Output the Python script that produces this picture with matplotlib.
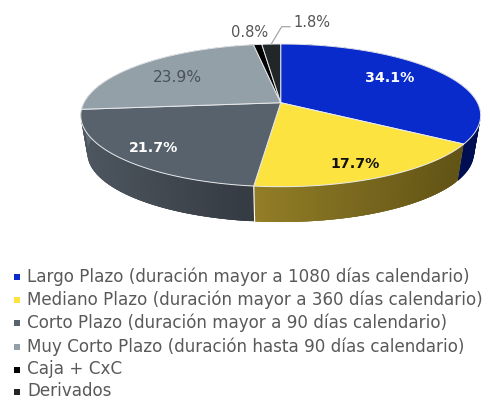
import numpy as np
import matplotlib
matplotlib.use('Agg')
import matplotlib.pyplot as plt
from matplotlib.colors import to_rgb

plt.rcParams['font.family'] = ['DejaVu Sans']

# slices, clockwise from 12 o'clock
categories = [
    "Largo Plazo (duración mayor a 1080 días calendario)",
    "Mediano Plazo (duración mayor a 360 días calendario)",
    "Corto Plazo (duración mayor a 90 días calendario)",
    "Muy Corto Plazo (duración hasta 90 días calendario)",
    "Caja + CxC",
    "Derivados",
]
values = [34.1, 17.7, 21.7, 23.9, 0.8, 1.8]
top_colors = ["#0a2bcb", "#fce340", "#58626c", "#94a0a8", "#000000", "#212729"]
side_left = ["#00115f", "#968128", "#4e5760", "#5f676e", "#000000", "#15191a"]
side_right = ["#000e52", "#625416", "#363c44", "#5f676e", "#000000", "#15191a"]

label_text = ["34.1%", "17.7%", "21.7%", "23.9%", "0.8%", "1.8%"]
label_x = [389.5, 355, 153.5, 177.5, 249.5, 311.5]
label_y = [77.5, 164, 147.5, 77.5, 32.5, 22.5]
label_colors = ["white", "#111111", "white", "#4a525a", "#555555", "#555555"]
label_sizes = [10.2, 10.2, 10.2, 11.2, 10.5, 10.5]

legend_y = [276.5, 300, 323, 346.5, 369.5, 391.5]

# perspective of the disc, in pixels
cx, cy = 280.7, 102.7
A, B, k = 196.8, 69.1, 0.1773
ell_y, scale, wall_y = 115.3, 0.967, 153.0


def top_xy(ang):
    u, v = np.sin(ang), np.cos(ang)
    w = 1 + k * v
    return cx + A * u / w, cy - B * v / w


def bottom_xy(ang):
    x, y = top_xy(ang)
    return cx + (x - cx) * scale, wall_y + (y - ell_y) * scale


fig = plt.figure(figsize=(4.9, 4), dpi=100)
ax = fig.add_axes([0, 0, 1, 1])
ax.set_xlim(0, 490)
ax.set_ylim(400, 0)
ax.axis('off')

edges = np.cumsum([0] + values) / sum(values) * 2 * np.pi

# walls first, the top covers whatever is at the back
for i in range(len(values)):
    a = np.linspace(edges[i], edges[i + 1], 61)
    x0, y0 = top_xy(a)
    x1, y1 = bottom_xy(a)
    # shade runs left to right on screen
    c_l, c_r = np.array(to_rgb(side_left[i])), np.array(to_rgb(side_right[i]))
    # quads overlap the next one so no seams show
    for j in range(len(a) - 1):
        t = (x0[j] - x0.min()) / max(x0.max() - x0.min(), 1)
        col = c_l + (c_r - c_l) * t
        e = min(j + 3, len(a) - 1)
        ax.fill([x0[j], x0[e], x1[e], x1[j]],
                [y0[j], y0[e], y1[e], y1[j]],
                facecolor=col, edgecolor='none', lw=0,
                zorder=2 + i * 0.01 + (len(a) - j) * 0.0001)

# white seam on the front wall
for ang in edges[1:-1]:
    if np.cos(ang) < -0.9:
        xa, ya = top_xy(ang)
        xb, yb = bottom_xy(ang)
        ax.plot([xa, xb], [ya, yb], color='white', lw=0.8, zorder=3)

for i in range(len(values)):
    a = np.linspace(edges[i], edges[i + 1], 120)
    x, y = top_xy(a)
    ax.fill(np.r_[cx, x], np.r_[cy, y], facecolor=top_colors[i],
            edgecolor='#e8eaec', lw=0.7, zorder=4)

for i in range(len(values)):
    ax.text(label_x[i], label_y[i], label_text[i], color=label_colors[i],
            fontsize=label_sizes[i], ha='center', va='center', zorder=6,
            fontweight='bold' if i < 3 else 'normal')

# leader line for the last slice
mid = (edges[-2] + edges[-1]) / 2
lx, ly = top_xy(mid)
ax.plot([lx, 281.7, 290], [ly, 26.7, 26.7], color='#a6a6a6', lw=0.9, zorder=5)

for i in range(len(categories)):
    ax.scatter([17], [legend_y[i]], marker='s', s=17, color=top_colors[i], lw=0)
    ax.text(27, legend_y[i], categories[i], color='#595959', fontsize=12.1,
            ha='left', va='center')

fig.savefig("out.png", dpi=100)
